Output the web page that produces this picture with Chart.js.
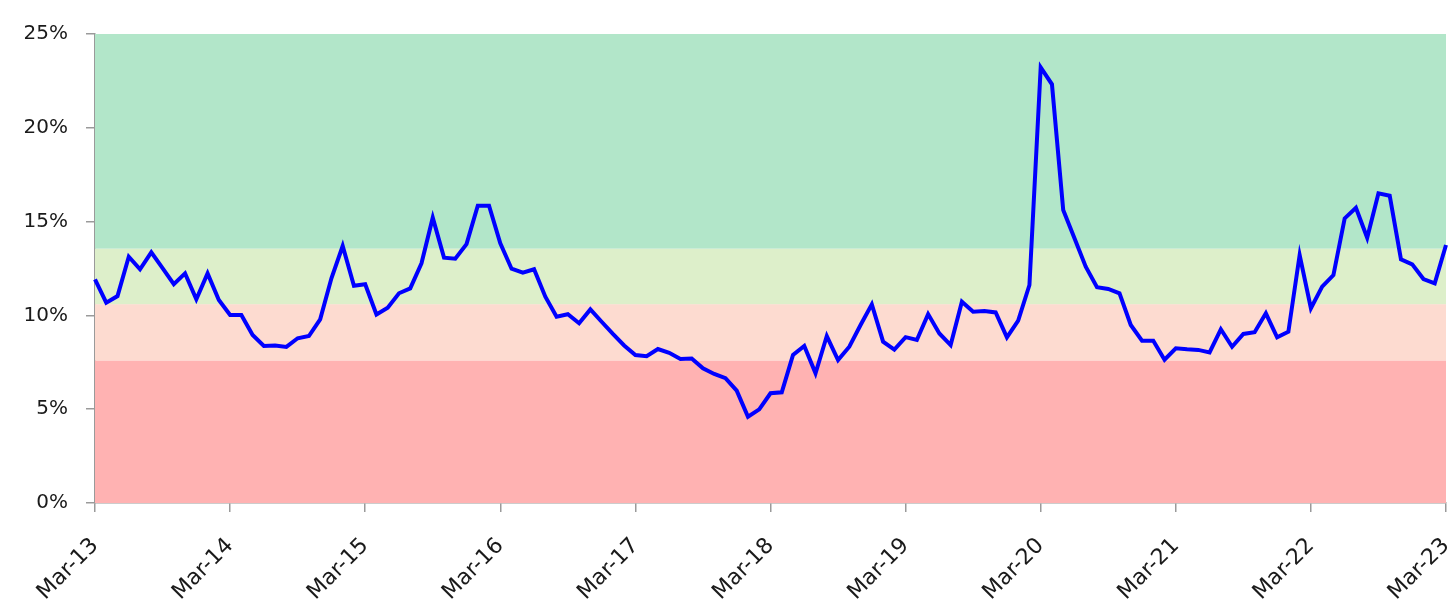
<!DOCTYPE html>
<html>
<head>
<meta charset="utf-8">
<script src="https://cdn.jsdelivr.net/npm/chart.js@4.4.1/dist/chart.umd.min.js"></script>
<style>
  html, body { margin: 0; padding: 0; background: #ffffff; }
  #wrap { width: 1448px; height: 609px; position: relative; }
</style>
</head>
<body>
<div id="wrap"><canvas id="c" width="1448" height="609"></canvas></div>
<script>
// ---- Data ----
const monthNames = ['Jan','Feb','Mar','Apr','May','Jun','Jul','Aug','Sep','Oct','Nov','Dec'];
// monthly categories from Mar-13 to Mar-23
const categories = [];
for (let y = 13; y <= 23; y++) {
  for (let m = 0; m < 12; m++) {
    if (y === 13 && m < 2) continue;
    if (y === 23 && m > 2) continue;
    categories.push(monthNames[m] + '-' + y);
  }
}
const seriesValues = [
  11.92, 10.68, 11.03, 13.13, 12.46, 13.36, 12.52, 11.66, 12.24, 10.86, 12.24, 10.82,
  10.02, 10.02, 8.96, 8.37, 8.40, 8.32, 8.78, 8.90, 9.79, 11.98, 13.70, 11.58,
  11.66, 10.05, 10.41, 11.18, 11.44, 12.78, 15.21, 13.08, 13.02, 13.80, 15.85, 15.85,
  13.84, 12.49, 12.28, 12.46, 11.00, 9.93, 10.06, 9.58, 10.32, 9.66, 9.01, 8.40,
  7.89, 7.82, 8.21, 8.01, 7.68, 7.70, 7.18, 6.88, 6.65, 5.99, 4.60, 4.99,
  5.85, 5.90, 7.89, 8.37, 6.91, 8.90, 7.62, 8.33, 9.49, 10.59, 8.60, 8.18,
  8.84, 8.69, 10.07, 9.04, 8.42, 10.73, 10.20, 10.23, 10.16, 8.83, 9.72, 11.62,
  23.22, 22.32, 15.62, 14.11, 12.60, 11.50, 11.41, 11.18, 9.49, 8.65, 8.65, 7.64,
  8.25, 8.19, 8.16, 8.03, 9.26, 8.33, 9.01, 9.10, 10.11, 8.83, 9.13, 13.22,
  10.38, 11.53, 12.15, 15.17, 15.74, 14.14, 16.51, 16.38, 12.99, 12.72, 11.94, 11.71,
  13.75
];
const yTicks = [0, 5, 10, 15, 20, 25];
const bandEdges = [0, 7.6, 10.6, 13.56, 25];
const bandColors = ['#ffb2b2', '#fddbd0', '#ddefca', '#b2e6c9'];

// ---- Background bands plugin ----
const bandsPlugin = {
  id: 'bands',
  beforeDatasetsDraw(chart) {
    const { ctx, chartArea, scales } = chart;
    const ys = scales.y;
    ctx.save();
    for (let i = 0; i < bandColors.length; i++) {
      const yTop = ys.getPixelForValue(bandEdges[i + 1]);
      const yBot = ys.getPixelForValue(bandEdges[i]);
      ctx.fillStyle = bandColors[i];
      ctx.fillRect(chartArea.left, yTop, chartArea.right - chartArea.left, yBot - yTop);
    }
    ctx.restore();
  }
};

const fontFamily = '"DejaVu Sans", "Liberation Sans", Arial, sans-serif';

new Chart(document.getElementById('c'), {
  type: 'line',
  data: {
    labels: categories,
    datasets: [{
      data: seriesValues,
      borderColor: '#0000ff',
      borderWidth: 4,
      pointRadius: 0,
      tension: 0,
      fill: false
    }]
  },
  options: {
    responsive: false,
    animation: false,
    devicePixelRatio: 1,
    layout: { padding: { top: 34, right: 2, left: 0, bottom: 0 } },
    plugins: { legend: { display: false }, tooltip: { enabled: false } },
    scales: {
      x: {
        type: 'category',
        offset: false,
        border: { display: true, color: '#9a9a9a', width: 1.5 },
        grid: { display: true, drawOnChartArea: false, tickLength: 9, color: '#9a9a9a', lineWidth: 1.5 },
        ticks: {
          autoSkip: false,
          maxRotation: 45,
          minRotation: 45,
          padding: 21,
          color: '#1a1a1a',
          font: { family: fontFamily, size: 22 },
          callback: function(val, idx) {
            return idx % 12 === 0 ? categories[idx] : null;
          }
        },
        afterFit(scale) {
          scale.height = 106;
          scale.paddingRight = 0;
          scale.paddingLeft = 0;
        }
      },
      y: {
        min: 0,
        max: 25,
        afterBuildTicks(scale) { scale.ticks = yTicks.map(v => ({ value: v })); },
        border: { display: true, color: '#9a9a9a', width: 1.5 },
        grid: { display: true, drawOnChartArea: false, tickLength: 9, color: '#9a9a9a', lineWidth: 1.5 },
        ticks: {
          padding: 18,
          color: '#1a1a1a',
          font: { family: fontFamily, size: 20 },
          callback: v => v + '%'
        },
        afterFit(scale) { scale.width = 95; scale.paddingTop = 0; scale.paddingBottom = 0; }
      }
    }
  },
  plugins: [bandsPlugin]
});
</script>
</body>
</html>
